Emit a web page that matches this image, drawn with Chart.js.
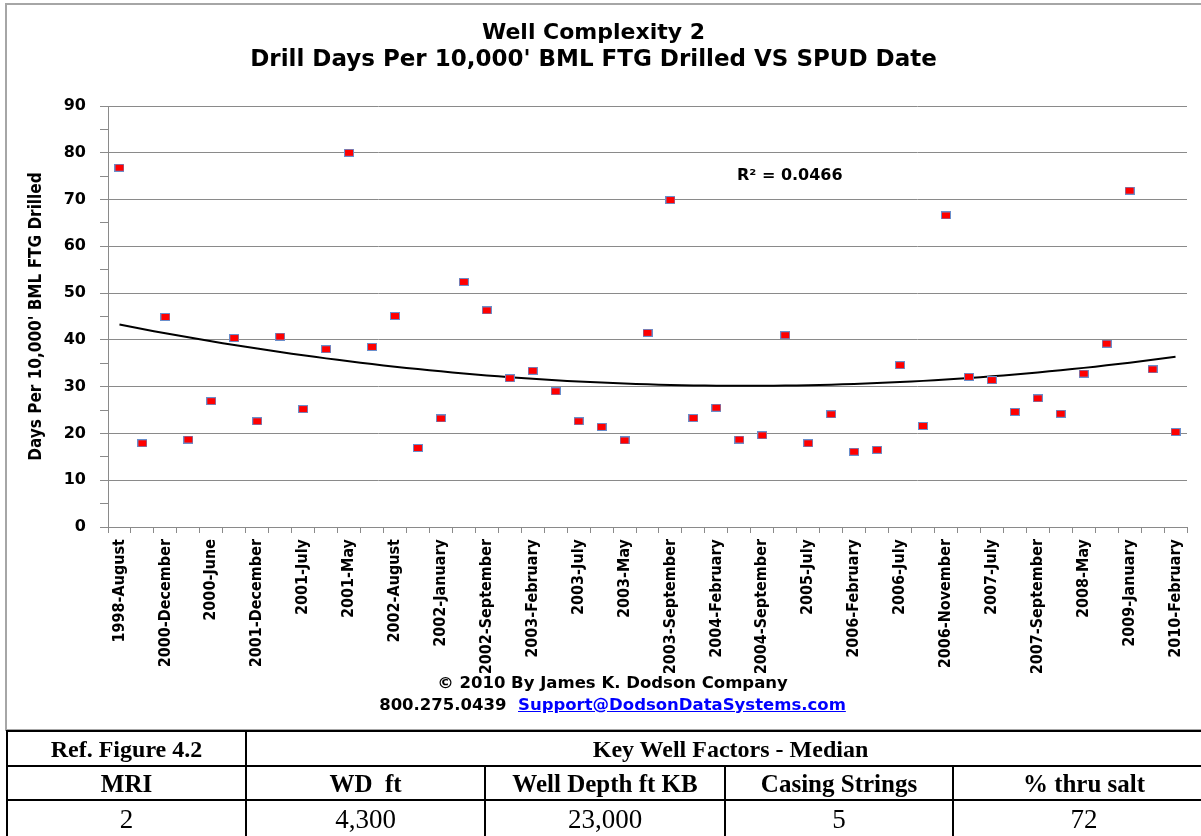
<!DOCTYPE html>
<html>
<head>
<meta charset="utf-8">
<script src="https://cdn.jsdelivr.net/npm/chart.js@4/dist/chart.umd.min.js"></script>
<style>
    html, body { margin: 0; padding: 0; background: #fff; overflow: hidden; }
    body { width: 1201px; height: 836px; position: relative; }
    #frame { position: absolute; left: 5px; top: 3px; width: 1210px; height: 728px; border: 2px solid #a6a6a6; box-sizing: border-box; }
    #wellChart { position: absolute; left: 0; top: 0; }
    .note { position: absolute; font-family: 'DejaVu Sans', sans-serif; font-weight: bold; color: #000; white-space: nowrap; }
    #r2 { left: 737px; top: 165px; font-size: 16px; line-height: 20px; }
    #footer { left: 12px; top: 672px; width: 1201px; text-align: center; font-size: 16.5px; line-height: 22px; }
    #footer a { color: #0000ff; text-decoration: underline; }
    table { position: absolute; left: 6px; top: 730px; width: 1210px; border-collapse: collapse; font-family: 'Liberation Serif', 'DejaVu Serif', serif; color: #000; }
    td { border: 2px solid #000; text-align: center; padding: 0; line-height: 1; }
    tr.r1 td { font-weight: bold; font-size: 24px; height: 33px; }
    tr.r2 td { font-weight: bold; font-size: 25px; height: 32px; }
    tr.r3 td { font-size: 27px; height: 36px; }
</style>
</head>
<body>
<canvas id="wellChart" width="1201" height="730"></canvas>
<div id="frame"></div>
<div id="r2" class="note">R² = 0.0466</div>
<div id="footer" class="note">© 2010 By James K. Dodson Company<br>800.275.0439&nbsp;&nbsp;<a href="#">Support@DodsonDataSystems.com</a></div>
<table>
    <tr class="r1"><td style="width:237px">Ref. Figure 4.2</td><td colspan="4">Key Well Factors - Median</td></tr>
    <tr class="r2"><td>MRI</td><td style="width:237px">WD&nbsp; ft</td><td style="width:238px">Well Depth ft KB</td><td style="width:226px">Casing Strings</td><td>% thru salt</td></tr>
    <tr class="r3"><td>2</td><td>4,300</td><td>23,000</td><td>5</td><td>72</td></tr>
</table>
<script>
// only every other spud month is labelled on the axis
const tickLabels = [
    '1998-August', '2000-December', '2000-June', '2001-December', '2001-July', '2001-May',
    '2002-August', '2002-January', '2002-September', '2003-February', '2003-July', '2003-May',
    '2003-September', '2004-February', '2004-September', '2005-July', '2006-February', '2006-July',
    '2006-November', '2007-July', '2007-September', '2008-May', '2009-January', '2010-February'
];

const drillDays = [
    76.8, 17.9, 44.9, 18.7, 26.9, 40.4, 22.6, 40.7, 25.2, 38.0,
    80.0, 38.5, 45.1, 16.9, 23.2, 52.4, 46.3, 31.8, 33.4, 29.0,
    22.6, 21.4, 18.5, 41.5, 69.9, 23.3, 25.5, 18.7, 19.6, 41.0,
    17.9, 24.1, 16.1, 16.5, 34.6, 21.6, 66.6, 32.1, 31.4, 24.6,
    27.5, 24.2, 32.8, 39.2, 71.9, 33.7, 20.3
];

const categories = drillDays.map((v, i) => (i % 2 === 0 ? tickLabels[i / 2] : ''));

// 2nd order polynomial trendline (least squares, x = 1..n like Excel)
const polyFit = (ys) => {
    let s = [0, 0, 0, 0, 0], t = [0, 0, 0];
    ys.forEach((y, i) => {
        const x = i + 1;
        for (let k = 0; k < 5; k++) s[k] += Math.pow(x, k);
        for (let k = 0; k < 3; k++) t[k] += y * Math.pow(x, k);
    });
    const m = [[s[0], s[1], s[2], t[0]], [s[1], s[2], s[3], t[1]], [s[2], s[3], s[4], t[2]]];
    for (let c = 0; c < 3; c++) {
        for (let r = c + 1; r < 3; r++) {
            const f = m[r][c] / m[c][c];
            for (let k = c; k < 4; k++) m[r][k] -= f * m[c][k];
        }
    }
    const b = [0, 0, 0];
    for (let r = 2; r >= 0; r--) {
        let sum = m[r][3];
        for (let k = r + 1; k < 3; k++) sum -= m[r][k] * b[k];
        b[r] = sum / m[r][r];
    }
    return ys.map((y, i) => b[0] + b[1] * (i + 1) + b[2] * (i + 1) * (i + 1));
};
const trend = polyFit(drillDays);

// red square marker with a blue edge
const marker = document.createElement('canvas');
marker.width = 10;
marker.height = 8;
const mctx = marker.getContext('2d');
mctx.fillStyle = '#6a8fcc';
mctx.fillRect(0, 0, 10, 8);
mctx.fillStyle = '#ff0000';
mctx.fillRect(1, 1, 8, 6);

const narrowBold = { family: "'Liberation Sans Narrow', 'DejaVu Sans Condensed', sans-serif", weight: 'bold' };
const wideBold = { family: "'DejaVu Sans', sans-serif", weight: 'bold' };
const gridGray = '#8a8a8a';

Chart.defaults.color = '#000';

new Chart(document.getElementById('wellChart').getContext('2d'), {
    type: 'line',
    data: {
        labels: categories,
        datasets: [{
            label: 'Drill Days',
            data: drillDays,
            showLine: false,
            pointStyle: marker,
            pointRadius: 4,
            pointHoverRadius: 4
        }, {
            label: 'Poly. trend',
            data: trend,
            borderColor: '#000',
            borderWidth: 2,
            pointRadius: 0,
            tension: 0.4,
            fill: false
        }]
    },
    options: {
        responsive: false,
        animation: false,
        layout: { padding: { left: 0, right: 14, top: 0, bottom: 0 } },
        plugins: {
            legend: { display: false },
            tooltip: { enabled: false },
            title: {
                display: true,
                text: 'Well Complexity 2',
                font: { ...wideBold, size: 22, lineHeight: 1.2 },
                color: '#000',
                padding: { top: 20, bottom: 0 }
            },
            subtitle: {
                display: true,
                text: "Drill Days Per 10,000' BML FTG Drilled VS SPUD Date",
                font: { ...wideBold, size: 23, lineHeight: 1.2 },
                color: '#000',
                padding: { top: 0, bottom: 32 }
            }
        },
        scales: {
            x: {
                offset: true,
                grid: { offset: true, drawOnChartArea: false, tickLength: 6, tickColor: gridGray },
                border: { color: gridGray },
                ticks: {
                    autoSkip: false,
                    minRotation: 90,
                    maxRotation: 90,
                    padding: 6,
                    font: { ...narrowBold, size: 16 }
                },
                afterFit: (scale) => { scale.height = 203; }
            },
            y: {
                min: 0,
                max: 90,
                grid: {
                    color: (ctx) => (ctx.tick && ctx.tick.value % 10 === 0 ? gridGray : 'rgba(0,0,0,0)'),
                    tickColor: gridGray,
                    tickLength: 8
                },
                border: { color: gridGray },
                ticks: {
                    stepSize: 5,
                    padding: 14,
                    font: { ...wideBold, size: 16 },
                    callback: (v) => (v % 10 === 0 ? v : '')
                },
                title: {
                    display: true,
                    text: "Days Per 10,000' BML FTG Drilled",
                    font: { ...narrowBold, size: 17 },
                    padding: { top: 26, bottom: 0 }
                },
                afterFit: (scale) => { scale.width = 108; }
            }
        }
    }
});
</script>
</body>
</html>
